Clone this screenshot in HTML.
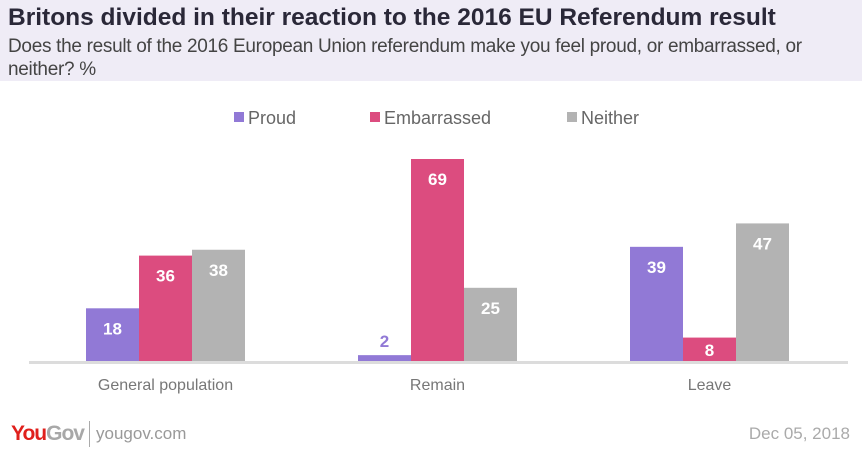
<!DOCTYPE html>
<html><head><meta charset="utf-8"><style>
body{margin:0;width:862px;height:450px;background:#fff;font-family:"Liberation Sans",sans-serif;overflow:hidden;position:relative}
#hdr{position:absolute;left:0;top:0;width:862px;height:81px;background:#efecf6}
#title{position:absolute;left:8px;top:4px;font-size:24.5px;font-weight:bold;color:#2a2838;letter-spacing:0px}
#sub{position:absolute;left:8px;top:35px;width:850px;font-size:19px;line-height:23px;color:#444;letter-spacing:-0.3px}
svg{position:absolute;left:0;top:0}
</style></head><body>
<div id="hdr"></div>
<div id="title">Britons divided in their reaction to the 2016 EU Referendum result</div>
<div id="sub">Does the result of the 2016 European Union referendum make you feel proud, or embarrassed, or neither? %</div>
<svg id="c" width="862" height="450"></svg>
<script>
const categories=["General population","Remain","Leave"];
const seriesNames=["Proud","Embarrassed","Neither"];
const proud=[18,2,39];
const embarrassed=[36,69,8];
const neither=[38,25,47];
const colors=["#9179d6","#dc4c7f","#b3b3b3"];
const NS="http://www.w3.org/2000/svg";
const svg=document.getElementById('c');
const base=361, scale=202/69, groupStart=165.5, groupStep=272, bw=53;
const y=v=>base-v*scale;
const x=(i,s)=>groupStart+i*groupStep+(s-1.5)*bw;
function mk(t,a){const e=document.createElementNS(NS,t);for(const k in a)e.setAttribute(k,a[k]);svg.appendChild(e);return e;}
const lx=[234,370,567];
seriesNames.forEach((n,s)=>{
 const r=mk('rect',{x:lx[s],y:112,width:10,height:10,fill:colors[s]});
 
 
 const t=mk('text',{x:lx[s]+14,y:124,'font-size':18,fill:'#666'});t.textContent=n;
 
 
});
const ax=mk('rect',{x:29,y:361,width:819,height:3,fill:'#dcdcdc'});


const series=[proud,embarrassed,neither];
categories.forEach((c,i)=>{
 series.forEach((arr,s)=>{
  const v=arr[i];
  const h=base-y(v);
  const r=mk('rect',{x:x(i,s),y:y(v),width:bw,height:h,fill:colors[s]});
  
  
  const small=h<15;
  const ty=small?y(v)-8:(h<35?base-5:y(v)+26);
  const t=mk('text',{x:x(i,s)+bw/2,y:ty,'text-anchor':'middle','font-size':17,'font-weight':'bold',fill:small?colors[s]:'#fff'});
  t.textContent=v;
  
  
 });
 const t=mk('text',{x:groupStart+i*groupStep,y:390,'text-anchor':'middle','font-size':16,fill:'#777'});
 t.textContent=c;
 
 
});
</script>
<div style="position:absolute;left:11px;top:422px;font-size:21px;font-weight:bold;letter-spacing:-1px"><span style="color:#e0201c">You</span><span style="color:#a8a8a8">Gov</span></div>
<div style="position:absolute;left:89px;top:421px;width:1px;height:26px;background:#aaa"></div>
<div style="position:absolute;left:96px;top:424px;font-size:17px;color:#999">yougov.com</div>
<div style="position:absolute;right:12px;top:424px;font-size:17px;color:#aaa">Dec 05, 2018</div>
</body></html>
